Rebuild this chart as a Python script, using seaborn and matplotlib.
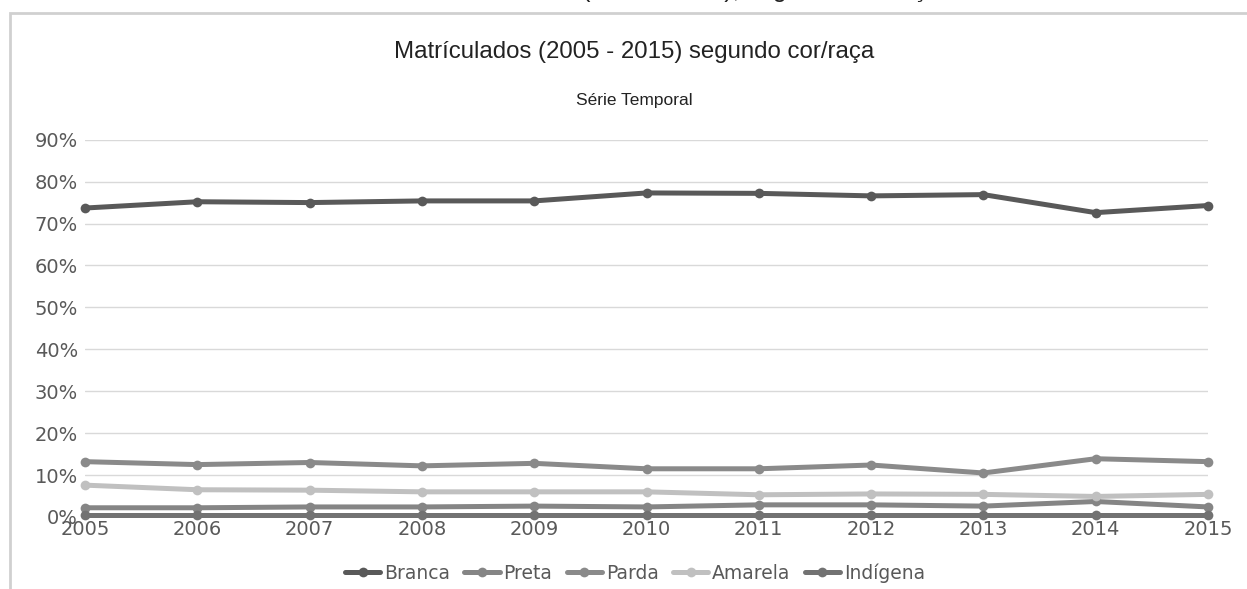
import pandas as pd
import seaborn as sns
import matplotlib.pyplot as plt
from matplotlib.patches import Rectangle
from matplotlib.ticker import FuncFormatter

# Matriculados segundo cor/raça (%), 2005 - 2015
years = [2005, 2006, 2007, 2008, 2009, 2010, 2011, 2012, 2013, 2014, 2015]
branca = [73.7, 75.2, 75.0, 75.4, 75.4, 77.3, 77.2, 76.6, 76.9, 72.6, 74.3]
preta = [2.2, 2.2, 2.4, 2.4, 2.6, 2.4, 2.9, 2.9, 2.6, 3.7, 2.4]
parda = [13.2, 12.5, 13.0, 12.2, 12.8, 11.5, 11.5, 12.4, 10.5, 13.9, 13.2]
amarela = [7.6, 6.5, 6.4, 6.0, 6.0, 6.0, 5.3, 5.5, 5.4, 4.9, 5.4]
indigena = [0.4, 0.4, 0.4, 0.4, 0.4, 0.4, 0.4, 0.4, 0.4, 0.4, 0.4]

series = ["Branca", "Preta", "Parda", "Amarela", "Indígena"]
palette = {
    "Branca": "#595959",
    "Preta": "#858585",
    "Parda": "#8a8a8a",
    "Amarela": "#c0c0c0",
    "Indígena": "#727272",
}

df = pd.DataFrame({
    "Ano": years * 5,
    "Valor": branca + preta + parda + amarela + indigena,
    "Cor": sum([[s] * len(years) for s in series], []),
})

sns.set_style("white")
plt.rcParams["font.family"] = ["DejaVu Sans"]

fig = plt.figure(figsize=(12.47, 5.89), dpi=100)
ax = fig.add_axes([85 / 1247, 1 - 517 / 589, (1208 - 85) / 1247, (517 - 139.7) / 589])

sns.lineplot(
    data=df,
    x="Ano",
    y="Valor",
    hue="Cor",
    hue_order=series,
    palette=palette,
    marker="o",
    markersize=7,
    markeredgewidth=0,
    linewidth=3.6,
    ax=ax,
)
for line in ax.lines:
    line.set_clip_on(False)

ax.set_xlim(2005, 2015)
ax.set_ylim(0, 90)
ax.set_xticks(years)
ax.set_yticks(range(0, 91, 10))
ax.yaxis.set_major_formatter(FuncFormatter(lambda v, p: f"{v:.0f}%"))
ax.tick_params(axis="both", labelsize=14, labelcolor="#595959", length=0)
ax.tick_params(axis="y", pad=5)
ax.tick_params(axis="x", pad=2)
ax.grid(axis="y", color="#d9d9d9", linewidth=1)
ax.set_axisbelow(True)
for s in ax.spines.values():
    s.set_visible(False)
ax.set_xlabel("")
ax.set_ylabel("")

handles, labels = ax.get_legend_handles_labels()
ax.legend(
    handles, labels,
    loc="center", bbox_to_anchor=(635 / 1247, 1 - 573 / 589),
    bbox_transform=fig.transFigure,
    ncol=5, frameon=False, fontsize=13.5, labelcolor="#595959",
    handlelength=1.9, handletextpad=0.2, columnspacing=0.75,
)

# chart frame
fig.patches.append(Rectangle(
    (10 / 1247, -0.2), 1.2, 0.2 + 1 - 13 / 589,
    transform=fig.transFigure, fill=False,
    edgecolor="#d0d0d0", linewidth=2, zorder=0,
))

# caption above the frame, mostly cut off at the top edge
fig.text(940 / 1247, 1 + 3 / 589,
         "Gráfico 1 - Matriculados (2005 - 2015), segundo cor/raça",
         ha="right", va="baseline", fontsize=18,
         family="Liberation Sans", color="#222222")
fig.text(634 / 1247, 1 - 52 / 589,
         "Matrículados (2005 - 2015) segundo cor/raça",
         ha="center", va="center", fontsize=17.3,
         family="Liberation Sans", color="#222222")
fig.text(634 / 1247, 1 - 100 / 589, "Série Temporal",
         ha="center", va="center", fontsize=12.5,
         family="Liberation Sans", color="#222222")

fig.savefig("out.png", dpi=100)
plt.close(fig)
